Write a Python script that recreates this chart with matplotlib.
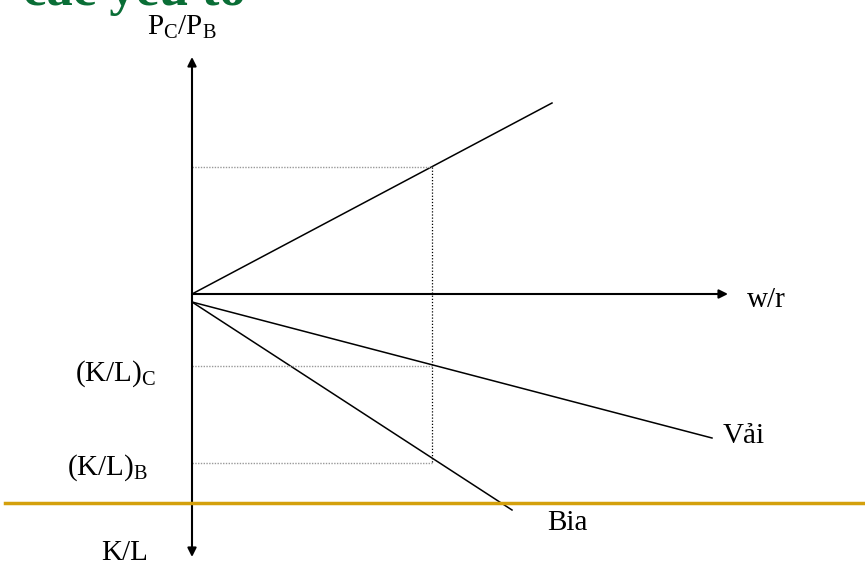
import matplotlib.pyplot as plt
from matplotlib.lines import Line2D

# diagram values (origin = w/r axis meets the vertical axis, 1 unit = 100 px)
wr_chosen = 2.40            # chosen w/r level marked with dotted guides
price_x = [0.0, 3.60]       # P_C/P_B line
price_y = [0.0, 1.91]
price_at_chosen = 1.27
vai_x = [0.0, 5.20]         # Vải (cloth) K/L line
vai_y = [-0.08, -1.44]
bia_x = [0.0, 3.20]         # Bia (beer) K/L line
bia_y = [-0.08, -2.16]
kl_c = -0.72                # (K/L)_C level
kl_b = -1.69                # (K/L)_B level

plt.rcParams['mathtext.fontset'] = 'custom'
plt.rcParams['mathtext.rm'] = 'Liberation Serif'
plt.rcParams['mathtext.it'] = 'Liberation Serif:italic'

fig = plt.figure(figsize=(8.65, 5.66), dpi=100)
ax = fig.add_axes([0, 0, 1, 1])
ax.set_xlim(-1.92, 6.73)
ax.set_ylim(-2.72, 2.94)
ax.axis('off')

# axes with arrows
ax.annotate('', xy=(5.36, 0), xytext=(0, 0),
            arrowprops=dict(arrowstyle='-|>', color='black', lw=1.5, mutation_scale=13, shrinkA=0, shrinkB=0))
ax.annotate('', xy=(0, 2.37), xytext=(0, -2.63),
            arrowprops=dict(arrowstyle='<|-|>', color='black', lw=1.5, mutation_scale=13, shrinkA=0, shrinkB=0))

# the three lines
ax.plot(price_x, price_y, color='black', lw=1.1)
ax.plot(vai_x, vai_y, color='black', lw=1.1)
ax.plot(bia_x, bia_y, color='black', lw=1.1)

# dotted guide lines
ax.plot([0, wr_chosen], [price_at_chosen, price_at_chosen], color='#999999', lw=1, ls=(0, (1, 1)))
ax.plot([0, wr_chosen], [kl_c, kl_c], color='#999999', lw=1, ls=(0, (1, 1)))
ax.plot([0, wr_chosen], [kl_b, kl_b], color='#999999', lw=1, ls=(0, (1, 1)))
ax.plot([wr_chosen, wr_chosen], [price_at_chosen, kl_b], color='black', lw=0.9, ls=(0, (1, 1.5)))

# labels
fs = 21
ax.text(-0.10, 2.59, r'$\mathrm{P_C/P_B}$', fontsize=fs, ha='center', va='baseline')
ax.text(5.55, -0.13, 'w/r', fontsize=fs, ha='left', va='baseline', family='Liberation Serif')
ax.text(5.31, -1.49, 'Vải', fontsize=fs, ha='left', va='baseline', family='Liberation Serif')
ax.text(3.55, -2.36, 'Bia', fontsize=fs, ha='left', va='baseline', family='Liberation Serif')
ax.text(-0.44, -2.66, 'K/L', fontsize=fs, ha='right', va='baseline', family='Liberation Serif')
ax.text(-1.17, -0.87, r'$\mathrm{(K/L)_C}$', fontsize=fs, ha='left', va='baseline')
ax.text(-1.25, -1.81, r'$\mathrm{(K/L)_B}$', fontsize=fs, ha='left', va='baseline')

# slide decoration: gold rule and clipped green title
fig.add_artist(Line2D([5 / 865, 1], [1 - 503 / 566, 1 - 503 / 566], color='#D4A00C', lw=2.5))
fig.text(23 / 865, 1 - 5 / 566, 'các yếu tố', fontsize=38, fontweight='bold',
         family='Liberation Serif', color='#0a6e36', ha='left', va='baseline')

fig.savefig('out.png', dpi=100)
